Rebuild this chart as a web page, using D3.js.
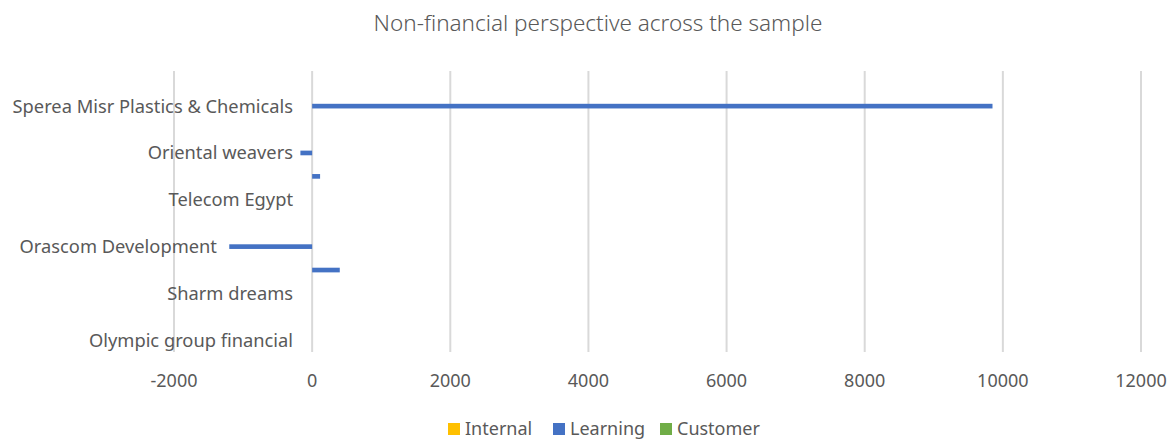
<!DOCTYPE html>
<html>
<head>
<meta charset="utf-8">
<script src="https://cdn.jsdelivr.net/npm/d3@7"></script>
<style>
    body { margin: 0; background: #fff; }
    svg text { font-family: "Noto Sans", "Open Sans", sans-serif; fill: #595959; }
    .grid { stroke: #d9d9d9; stroke-width: 2; }
</style>
</head>
<body>
<svg width="1174" height="439"></svg>
<script>
// categories from top to bottom; Excel only labels every second one
var categories = ["", "Sperea Misr Plastics & Chemicals", "", "Oriental weavers", "", "Telecom Egypt",
                  "", "Orascom Development" + "\u00a0".repeat(16), "", "Sharm dreams", "", "Olympic group financial"];
var seriesNames = ["Internal", "Learning", "Customer"];
var seriesColors = ["#ffc000", "#4472c4", "#70ad47"];
var internalValues = [0, 0, 0, 0, 0, 0, 0, 0, 0, 0, 0, 0];
var learningValues = [0, 9850, 0, -170, 115, 0, 0, -1200, 400, 0, 0, 0];
var customerValues = [0, 0, 0, 0, 0, 0, 0, 0, 0, 0, 0, 0];
var xTicks = [-2000, 0, 2000, 4000, 6000, 8000, 10000, 12000];

function nonFinancialChart() {
    var self = {};
    self.svg = d3.select("svg");
    self.width = 1174;
    self.height = 439;

    self.setScales = function () {
        self.x = d3.scaleLinear().domain([-2000, 12000]).range([174, 1141]);
        self.y = d3.scaleBand().domain(d3.range(categories.length)).range([71, 352]);
        self.inner = d3.scaleBand().domain(seriesNames).range([-7, 7]);
    };

    self.drawTitle = function () {
        self.svg.append("text")
                .attr("x", 598)
                .attr("y", 23)
                .attr("dy", "0.35em")
                .attr("text-anchor", "middle")
                .style("font-size", "22.5px")
                .style("font-weight", 300)
                .text("Non-financial perspective across the sample");
    };

    self.drawGrid = function () {
        self.svg.selectAll("line.grid")
                .data(xTicks)
                .enter().append("line")
                .attr("class", "grid")
                .attr("x1", function (d) { return self.x(d); })
                .attr("x2", function (d) { return self.x(d); })
                .attr("y1", self.y.range()[0])
                .attr("y2", self.y.range()[1]);

        self.svg.selectAll("text.tick")
                .data(xTicks)
                .enter().append("text")
                .attr("class", "tick")
                .attr("x", function (d) { return self.x(d); })
                .attr("y", 381)
                .attr("dy", "0.35em")
                .attr("text-anchor", "middle")
                .style("font-size", "18px")
                .text(function (d) { return d; });
    };

    self.drawBars = function () {
        var all = [internalValues, learningValues, customerValues];
        seriesNames.forEach(function (name, s) {
            var rows = all[s].map(function (v, i) { return { i: i, value: v }; });
            self.svg.append("g")
                    .selectAll("rect")
                    .data(rows.filter(function (d) { return d.value !== 0; }))
                    .enter().append("rect")
                    .attr("x", function (d) { return self.x(Math.min(0, d.value)); })
                    .attr("width", function (d) { return Math.abs(self.x(d.value) - self.x(0)); })
                    .attr("y", function (d) { return self.y(d.i) + self.y.bandwidth() / 2 + self.inner(name); })
                    .attr("height", self.inner.bandwidth())
                    .attr("fill", seriesColors[s]);
        });
    };

    self.drawLabels = function () {
        self.svg.selectAll("text.cat")
                .data(categories)
                .enter().append("text")
                .attr("class", "cat")
                .attr("x", 293)
                .attr("y", function (d, i) { return self.y(i) + self.y.bandwidth() / 2; })
                .attr("dy", "0.35em")
                .attr("text-anchor", "end")
                .style("font-size", "18.3px")
                .style("white-space", "pre")
                .text(function (d) { return d; });
    };

    self.drawLegend = function () {
        var starts = [448, 553, 660];
        var legend = self.svg.selectAll("g.legend")
                             .data(seriesNames)
                             .enter().append("g")
                             .attr("class", "legend")
                             .attr("transform", function (d, i) { return "translate(" + starts[i] + ", 429)"; });
        legend.append("rect")
              .attr("x", 0)
              .attr("y", -6)
              .attr("width", 12)
              .attr("height", 12)
              .attr("fill", function (d, i) { return seriesColors[i]; });
        legend.append("text")
              .attr("x", 17)
              .attr("dy", "0.35em")
              .style("font-size", "18px")
              .text(function (d) { return d; });
    };

    self.setScales();
    self.drawTitle();
    self.drawGrid();
    self.drawBars();
    self.drawLabels();
    self.drawLegend();
    return self;
}

nonFinancialChart();
</script>
</body>
</html>
